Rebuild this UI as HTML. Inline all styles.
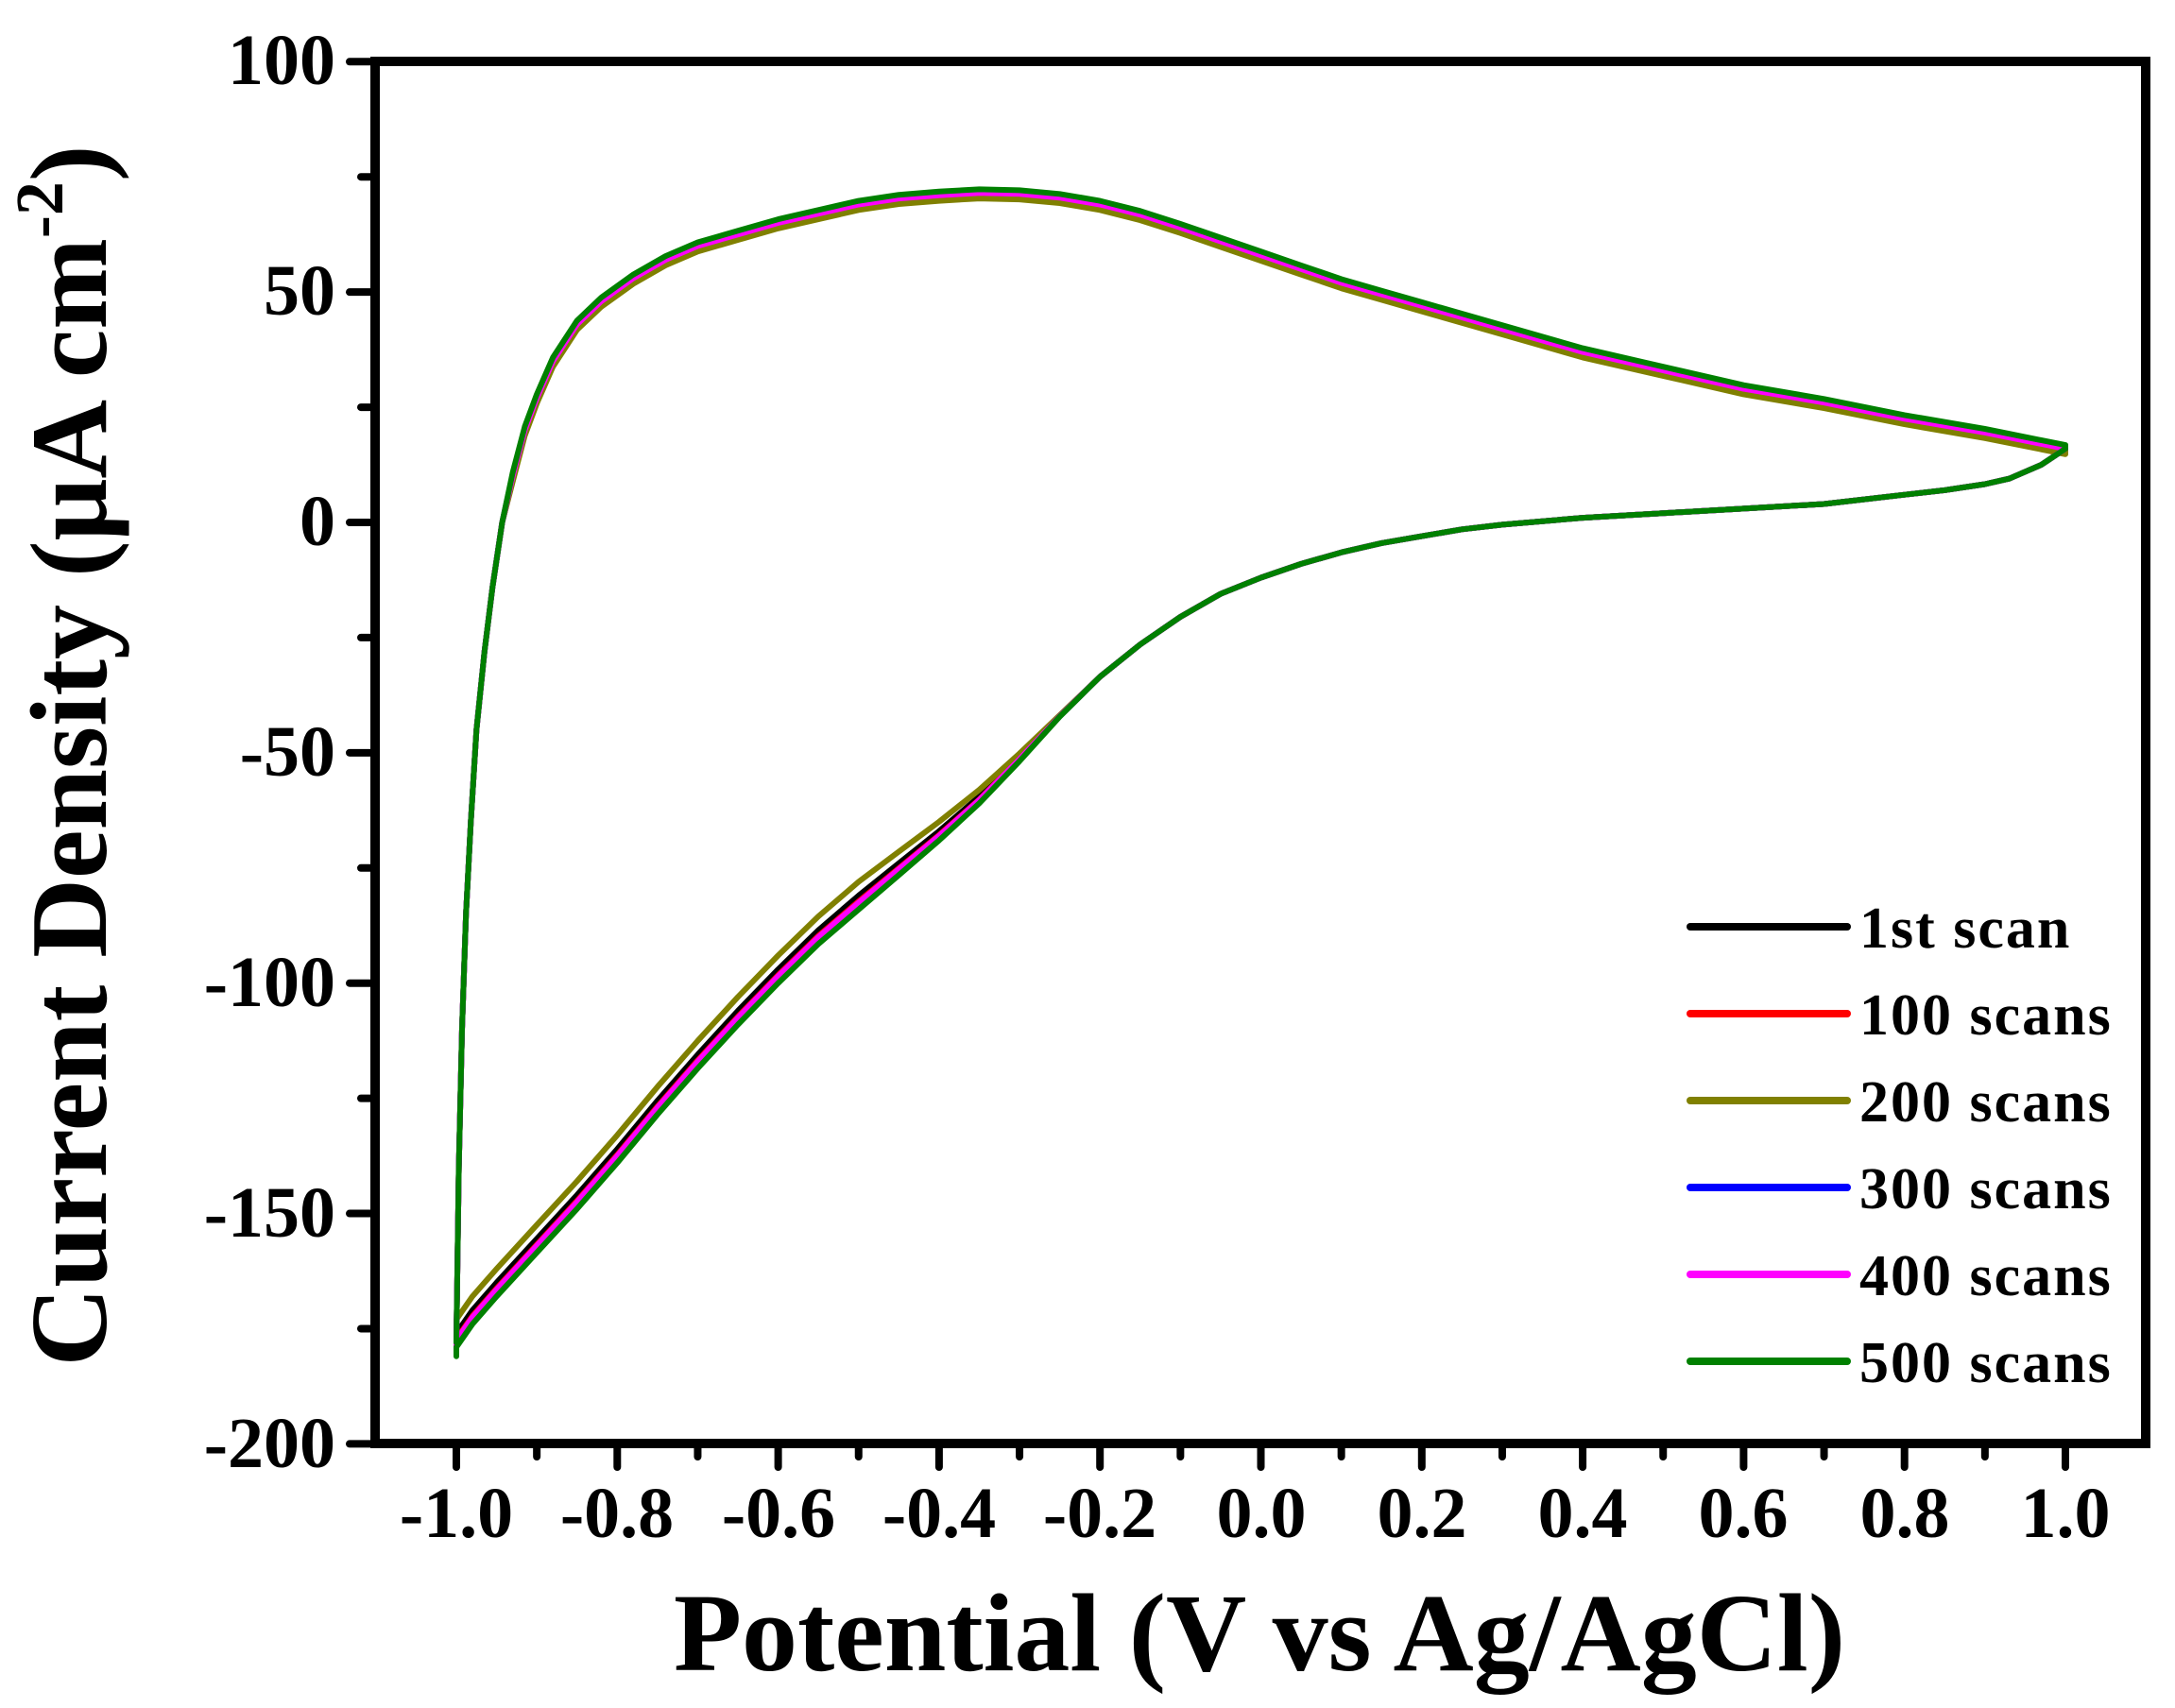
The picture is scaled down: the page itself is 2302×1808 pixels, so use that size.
<!DOCTYPE html>
<html><head><meta charset="utf-8"><style>
html,body{margin:0;padding:0;background:#fff;}
svg{display:block;}
text{font-family:"Liberation Serif",serif;font-weight:bold;fill:#000;}
</style></head><body>
<svg id="s" width="2302" height="1808" viewBox="0 0 2302 1808" xmlns="http://www.w3.org/2000/svg">
<g id="curves" fill="none" stroke-width="6" stroke-linejoin="round" stroke-linecap="round"></g>
<rect x="397" y="65" width="1874" height="1463" fill="none" stroke="#000" stroke-width="10"/>
<g id="ticks" stroke="#000" stroke-width="8" stroke-linecap="round"></g>
<g font-size="76" text-anchor="end">
<text x="355" y="89">100</text>
<text x="355" y="333">50</text>
<text x="355" y="577">0</text>
<text x="355" y="821">-50</text>
<text x="355" y="1065">-100</text>
<text x="355" y="1309">-150</text>
<text x="355" y="1553">-200</text>
</g>
<g font-size="76" text-anchor="middle">
<text x="483" y="1627">-1.0</text>
<text x="653" y="1627">-0.8</text>
<text x="824" y="1627">-0.6</text>
<text x="994" y="1627">-0.4</text>
<text x="1164" y="1627">-0.2</text>
<text x="1335" y="1627">0.0</text>
<text x="1505" y="1627">0.2</text>
<text x="1675" y="1627">0.4</text>
<text x="1845" y="1627">0.6</text>
<text x="2016" y="1627">0.8</text>
<text x="2186" y="1627">1.0</text>
</g>
<text x="1333" y="1768" font-size="118" text-anchor="middle">Potential (V vs Ag/AgCl)</text>
<text transform="translate(112,800) rotate(-90)" font-size="116" text-anchor="middle">Current Density (μA cm<tspan font-size="72" dy="-46">-2</tspan><tspan dy="46">)</tspan></text>
<g stroke-width="8" stroke-linecap="round">
<line x1="1789" y1="981" x2="1955" y2="981" stroke="#000"/>
<line x1="1789" y1="1073" x2="1955" y2="1073" stroke="#ff0000"/>
<line x1="1789" y1="1165" x2="1955" y2="1165" stroke="#808000"/>
<line x1="1789" y1="1257" x2="1955" y2="1257" stroke="#0000ff"/>
<line x1="1789" y1="1349" x2="1955" y2="1349" stroke="#ff00ff"/>
<line x1="1789" y1="1441" x2="1955" y2="1441" stroke="#008000"/>
</g>
<g font-size="62" letter-spacing="2">
<text x="1968" y="1003">1st scan</text>
<text x="1968" y="1095">100 scans</text>
<text x="1968" y="1187">200 scans</text>
<text x="1968" y="1279">300 scans</text>
<text x="1968" y="1371">400 scans</text>
<text x="1968" y="1463">500 scans</text>
</g>
</svg>
<script>
var NS="http://www.w3.org/2000/svg";
function X(v){return 1334.5+v*851.5;}
function Y(v){return 553+(-v)*4.877;}
var t=document.getElementById('ticks'),h='';
for(var v=-200;v<=100;v+=25){var y=Y(v);var maj=(v%50===0);h+='<line x1="'+(maj?370:382)+'" y1="'+y+'" x2="397" y2="'+y+'"/>';}
for(var i=-10;i<=10;i++){var x=X(i/10);var maj=(i%2===0);h+='<line x1="'+x+'" y1="1528" x2="'+x+'" y2="'+(maj?1553:1542)+'"/>';}
t.innerHTML=h;
var up=[[-1.0,-178],[-0.997,-140],[-0.993,-110],[-0.988,-85],[-0.982,-65],[-0.975,-45],[-0.965,-28],[-0.955,-14],[-0.943,0],[-0.93,10],[-0.915,20],[-0.9,27],[-0.88,35],[-0.85,43],[-0.82,48],[-0.78,53],[-0.74,57],[-0.7,60],[-0.65,62.5],[-0.6,65],[-0.55,67],[-0.5,69],[-0.45,70.3],[-0.4,71],[-0.35,71.5],[-0.3,71.3],[-0.25,70.5],[-0.2,69],[-0.15,66.8],[-0.1,64],[-0.05,61],[0,58],[0.05,55],[0.1,52],[0.15,49.5],[0.2,47],[0.3,42],[0.4,37],[0.5,33],[0.6,29],[0.7,26],[0.8,22.5],[0.9,19.5],[1.0,16]];
var lo=[[1.0,16],[0.97,12.5],[0.93,9.5],[0.9,8.3],[0.85,7],[0.8,6],[0.7,4],[0.6,3],[0.5,2],[0.4,1],[0.3,-0.5],[0.25,-1.5],[0.2,-3],[0.15,-4.5],[0.1,-6.5],[0.05,-9],[0.0,-12],[-0.05,-15.5],[-0.1,-20.5],[-0.15,-26.5],[-0.2,-33.5],[-0.25,-42],[-0.3,-51],[-0.35,-59.5],[-0.4,-67],[-0.45,-74],[-0.5,-81],[-0.55,-88.5],[-0.6,-97],[-0.65,-106],[-0.7,-115.5],[-0.75,-125.5],[-0.8,-136],[-0.85,-146],[-0.9,-155.5],[-0.95,-165],[-0.98,-171],[-1.0,-176],[-1.0,-178]];
var cols=['#000','#ff0000','#808000','#0000ff','#ff00ff','#008000'];
var offs=[-0.8,0,-1.2,0.4,0,0.8];
var lows=[0,-0.5,1.2,-0.8,-0.6,-1.2];
var g=document.getElementById('curves');
cols.forEach(function(c,k){
 var d='';
 up.forEach(function(p,i){var yy=p[1]+(p[1]>0?offs[k]:0);d+=(i?'L':'M')+X(p[0]).toFixed(1)+','+Y(yy).toFixed(1);});
 lo.forEach(function(p){var f=p[1]<-40?Math.min(1,(-p[1]-40)/40):0;d+='L'+X(p[0]).toFixed(1)+','+Y(p[1]+lows[k]*f*2.5).toFixed(1);});
 var e=document.createElementNS(NS,'path');e.setAttribute('d',d);e.setAttribute('stroke',c);g.appendChild(e);
});
</script>
</body></html>
